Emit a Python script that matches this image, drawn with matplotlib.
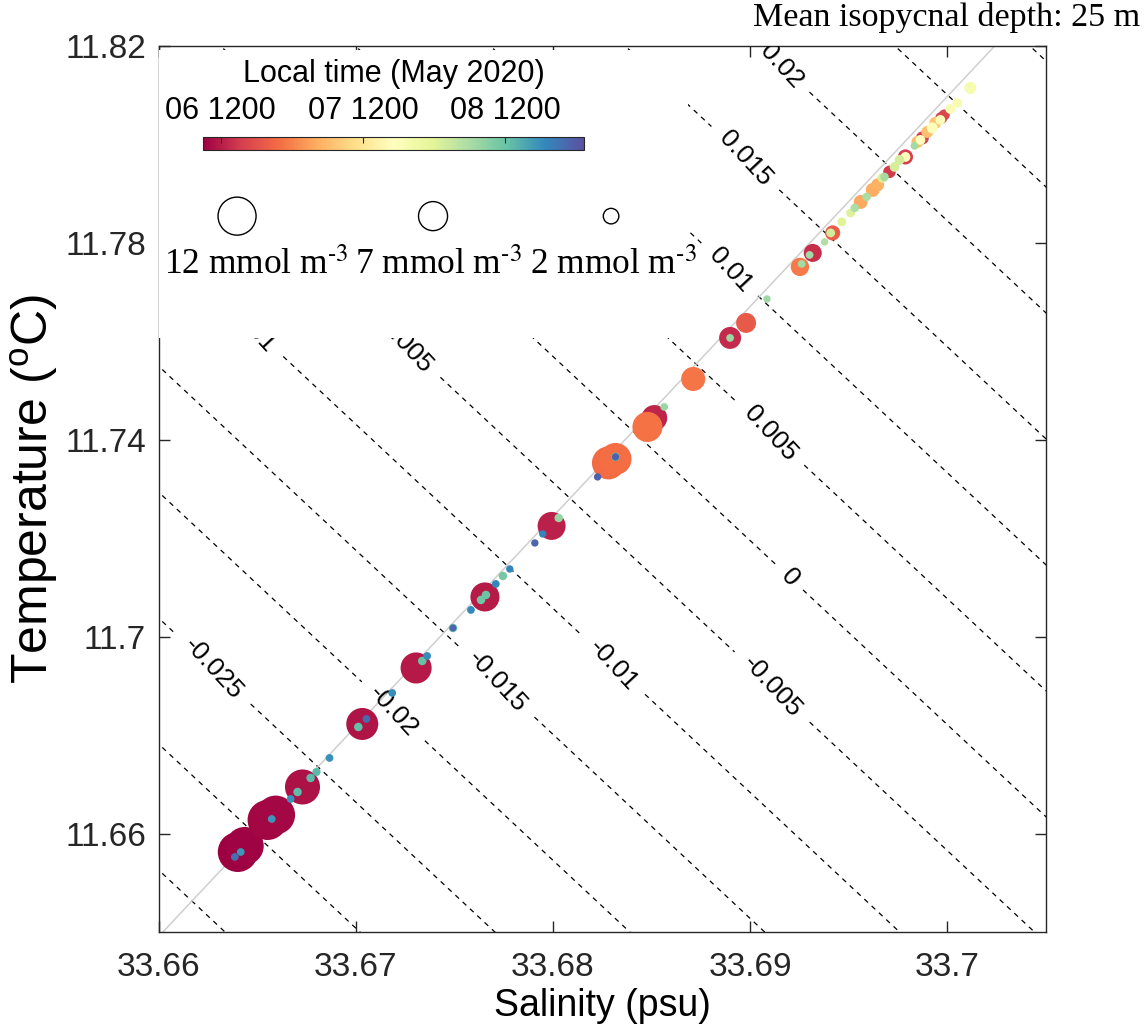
import numpy as np
import matplotlib
matplotlib.use('Agg')
import matplotlib.pyplot as plt
from matplotlib.patches import Rectangle

plt.rcParams['font.family'] = ['Liberation Sans', 'DejaVu Sans']
plt.rcParams['mathtext.fontset'] = 'custom'
plt.rcParams['mathtext.rm'] = 'Liberation Sans'

# observations on the isopycnal: salinity (psu), temperature (degC),
# concentration (mmol m-3) and local time (days since 6 May 2020 00:00)
sal = [33.66402, 33.66437, 33.66553, 33.66594, 33.66730, 33.67033, 33.67306, 33.67655,
       33.67993, 33.68514, 33.68898, 33.69317,
       33.69706, 33.69787, 33.69873, 33.69969, 33.69984,
       33.68979, 33.69418,
       33.68281, 33.68317, 33.68479, 33.68711, 33.69252,
       33.69560, 33.69621, 33.69646, 33.69848, 33.69898, 33.69938,
       33.69787, 33.69863, 33.69923, 33.69964, 33.70014, 33.70050, 33.70116,
       33.69464, 33.69509, 33.69671, 33.69732, 33.69757, 33.69408,
       33.69377, 33.69530, 33.69590, 33.69681, 33.69833, 33.69261, 33.69301, 33.69085,
       33.68898, 33.68564, 33.68029,
       33.67746, 33.67635, 33.67660, 33.67493, 33.67337, 33.67013, 33.66705, 33.66771,
       33.66801, 33.68317,
       33.66417, 33.66574, 33.66670, 33.66867, 33.67185, 33.67362, 33.67584, 33.67710,
       33.67781, 33.67948,
       33.66387, 33.67054, 33.67493, 33.67908, 33.68226, 33.68317]
temp = [11.65634, 11.65756, 11.66284, 11.66385, 11.66954, 11.68233, 11.69370, 11.70812,
        11.72254, 11.74447, 11.76071, 11.77797,
        11.79442, 11.79746, 11.80132, 11.80538, 11.80599,
        11.76376, 11.78203,
        11.73533, 11.73614, 11.74264, 11.75238, 11.77513,
        11.78832, 11.79076, 11.79178, 11.80051, 11.80254, 11.80437,
        11.79746, 11.80091, 11.80335, 11.80497, 11.80721, 11.80843, 11.81147,
        11.78426, 11.78609, 11.79320, 11.79543, 11.79685, 11.78203,
        11.78020, 11.78711, 11.78934, 11.79340, 11.79970, 11.77574, 11.77756, 11.76863,
        11.76071, 11.74670, 11.72416,
        11.71238, 11.70751, 11.70853, 11.70182, 11.69512, 11.68172, 11.66852, 11.67137,
        11.67259, 11.73655,
        11.65634, 11.66304, 11.66710, 11.67543, 11.68863, 11.69614, 11.70548, 11.71076,
        11.71380, 11.72091,
        11.65533, 11.68335, 11.70182, 11.71908, 11.73249, 11.73655]
conc = [13.3, 12.0, 13.3, 12.5, 10.2, 8.5, 8.0, 7.0, 6.5, 5.5, 4.0, 2.7,
        1.3, 1.9, 1.4, 1.2, 1.0,
        3.3, 1.9,
        9.0, 8.5, 7.5, 4.8, 2.8,
        1.6, 1.6, 1.4, 1.2, 1.2, 1.2,
        0.8, 0.8, 1.0, 0.8, 0.8, 0.8, 1.2,
        0.65, 0.65, 0.8, 0.8, 0.8, 0.65,
        0.45, 0.6, 0.6, 0.6, 0.5, 0.5, 0.5, 0.45,
        0.5, 0.5, 0.6,
        0.6, 0.6, 0.6, 0.6, 0.6, 0.6, 0.6, 0.6,
        0.55, 0.6,
        0.5, 0.5, 0.5, 0.5, 0.5, 0.5, 0.5, 0.5,
        0.45, 0.45,
        0.5, 0.5, 0.4, 0.45, 0.45, 0.45]
tday = [0.38, 0.39, 0.40, 0.41, 0.45, 0.46, 0.48, 0.50, 0.52, 0.54, 0.56, 0.58,
        0.63, 0.65, 0.66, 0.68, 0.69,
        0.80, 0.82,
        0.90, 0.91, 0.93, 0.95, 0.97,
        1.15, 1.18, 1.20, 1.25, 1.28, 1.30,
        1.70, 1.72, 1.74, 1.76, 1.78, 1.80, 1.82,
        2.00, 2.02, 2.04, 2.06, 2.07, 2.08,
        2.22, 2.24, 2.25, 2.26, 2.27, 2.28, 2.29, 2.30,
        2.31, 2.32, 2.33,
        2.45, 2.47, 2.48, 2.50, 2.52, 2.53, 2.55, 2.56,
        2.57, 2.50,
        2.72, 2.73, 2.74, 2.75, 2.76, 2.77, 2.78, 2.79,
        2.80, 2.81,
        2.90, 2.92, 2.94, 2.95, 2.96, 2.97]

# mean isopycnal (grey line)
iso_sal = [33.6602, 33.7024]
iso_temp = [11.64, 11.82]

# spiciness background, linearised over the plotted range
SPICE_DS = 0.731
SPICE_DT = 0.1955
S_REF = 33.7048
T_REF = 11.66422
spice_levels = [-0.035, -0.03, -0.025, -0.02, -0.015, -0.01, -0.005,
                0.0, 0.005, 0.01, 0.015, 0.02, 0.025, 0.03]
label_pos = [(33.69166, 11.81614), (33.68964, 11.79685), (33.68898, 11.77452),
             (33.69105, 11.74142), (33.69191, 11.71157), (33.69090, 11.68924),
             (33.68307, 11.69431), (33.67710, 11.69066), (33.67180, 11.68457),
             (33.66270, 11.69330), (33.67190, 11.75827), (33.66460, 11.76250)]

xticks = [33.66, 33.67, 33.68, 33.69, 33.70]
yticks = [11.66, 11.70, 11.74, 11.78, 11.82]
cbar_ticks = [0.5, 1.5, 2.5]
cbar_ticklabels = ['06 1200', '07 1200', '08 1200']
legend_conc = [12, 7, 2]
SIZE_PER_CONC = 62.5

fig = plt.figure(figsize=(11.47, 10.34), dpi=100)
ax = fig.add_axes([0.1382, 0.0982, 0.7738, 0.8574])

sg, tg = np.meshgrid(np.linspace(33.655, 33.71, 150), np.linspace(11.635, 11.825, 150))
spice = SPICE_DS * (sg - S_REF) + SPICE_DT * (tg - T_REF)
cs = ax.contour(sg, tg, spice, levels=spice_levels, colors='k',
                linestyles=[(0, (4, 4))], linewidths=0.9, zorder=1)
ax.clabel(cs, manual=label_pos, inline=True, inline_spacing=8, fontsize=19,
          fmt=lambda v: f'{round(v, 3) + 0:g}')

ax.plot(iso_sal, iso_temp, color='#cfcfcf', lw=1.1, zorder=2)

# white panel behind the legends
ax.add_patch(Rectangle((0.0, 0.6706), 0.5966, 0.325, transform=ax.transAxes,
                       facecolor='white', edgecolor='none', zorder=3.5))

order = np.argsort(tday, kind='stable')
sal_a = np.array(sal)[order]
temp_a = np.array(temp)[order]
conc_a = np.array(conc)[order]
t_a = np.array(tday)[order]
sc = ax.scatter(sal_a, temp_a, s=conc_a * SIZE_PER_CONC, c=t_a, cmap='Spectral',
                vmin=0.375, vmax=3.055, linewidths=0, zorder=4)

ax.set_xlim(33.66, 33.705)
ax.set_ylim(11.64, 11.82)
ax.set_xticks(xticks)
ax.set_xticklabels([f'{v:g}' for v in xticks])
ax.set_yticks(yticks)
ax.set_yticklabels([f'{v:g}' for v in yticks])
ax.tick_params(direction='in', length=8, width=1, top=True, right=True,
               labelsize=24, color='#262626', labelcolor='#262626')
ax.tick_params(axis='x', pad=14)
ax.tick_params(axis='y', pad=9)
for sp in ax.spines.values():
    sp.set_color('#262626')
    sp.set_linewidth(1.0)
ax.set_xlabel('Salinity (psu)', fontsize=27, labelpad=4)
ax.set_ylabel('Temperature ($^{\\mathrm{o}}$C)', fontsize=36, labelpad=4)

# colour bar
cax = ax.inset_axes([0.0501, 0.8827, 0.4293, 0.0146])
cb = fig.colorbar(sc, cax=cax, orientation='horizontal')
cax.xaxis.set_ticks_position('top')
cax.xaxis.set_label_position('top')
cb.set_ticks(cbar_ticks)
cb.set_ticklabels(cbar_ticklabels)
cax.tick_params(direction='in', length=4, width=0.8, labelsize=22, pad=8, color='#262626')
cb.set_label('Local time (May 2020)', fontsize=22, labelpad=10)
cb.outline.set_linewidth(0.8)
cb.outline.set_edgecolor('#262626')

# size legend
leg_x = [0.0885, 0.3093, 0.5099]
ax.scatter(leg_x, [0.808] * 3, s=np.array(legend_conc) * SIZE_PER_CONC,
           facecolors='none', edgecolors='k', linewidths=1.0,
           transform=ax.transAxes, zorder=5, clip_on=False)
for x, c in zip([0.110, 0.315, 0.512], legend_conc):
    ax.text(x, 0.753, f'{c} mmol m$^{{\\text{{-3}}}}$', transform=ax.transAxes, ha='center',
            va='center', fontsize=25.5, family='Liberation Serif',
            math_fontfamily='stix', zorder=5)

fig.text(0.994, 0.983, 'Mean isopycnal depth: 25 m', ha='right', va='center',
         fontsize=24.5, family='Liberation Serif')

fig.savefig('out.png', dpi=100)
